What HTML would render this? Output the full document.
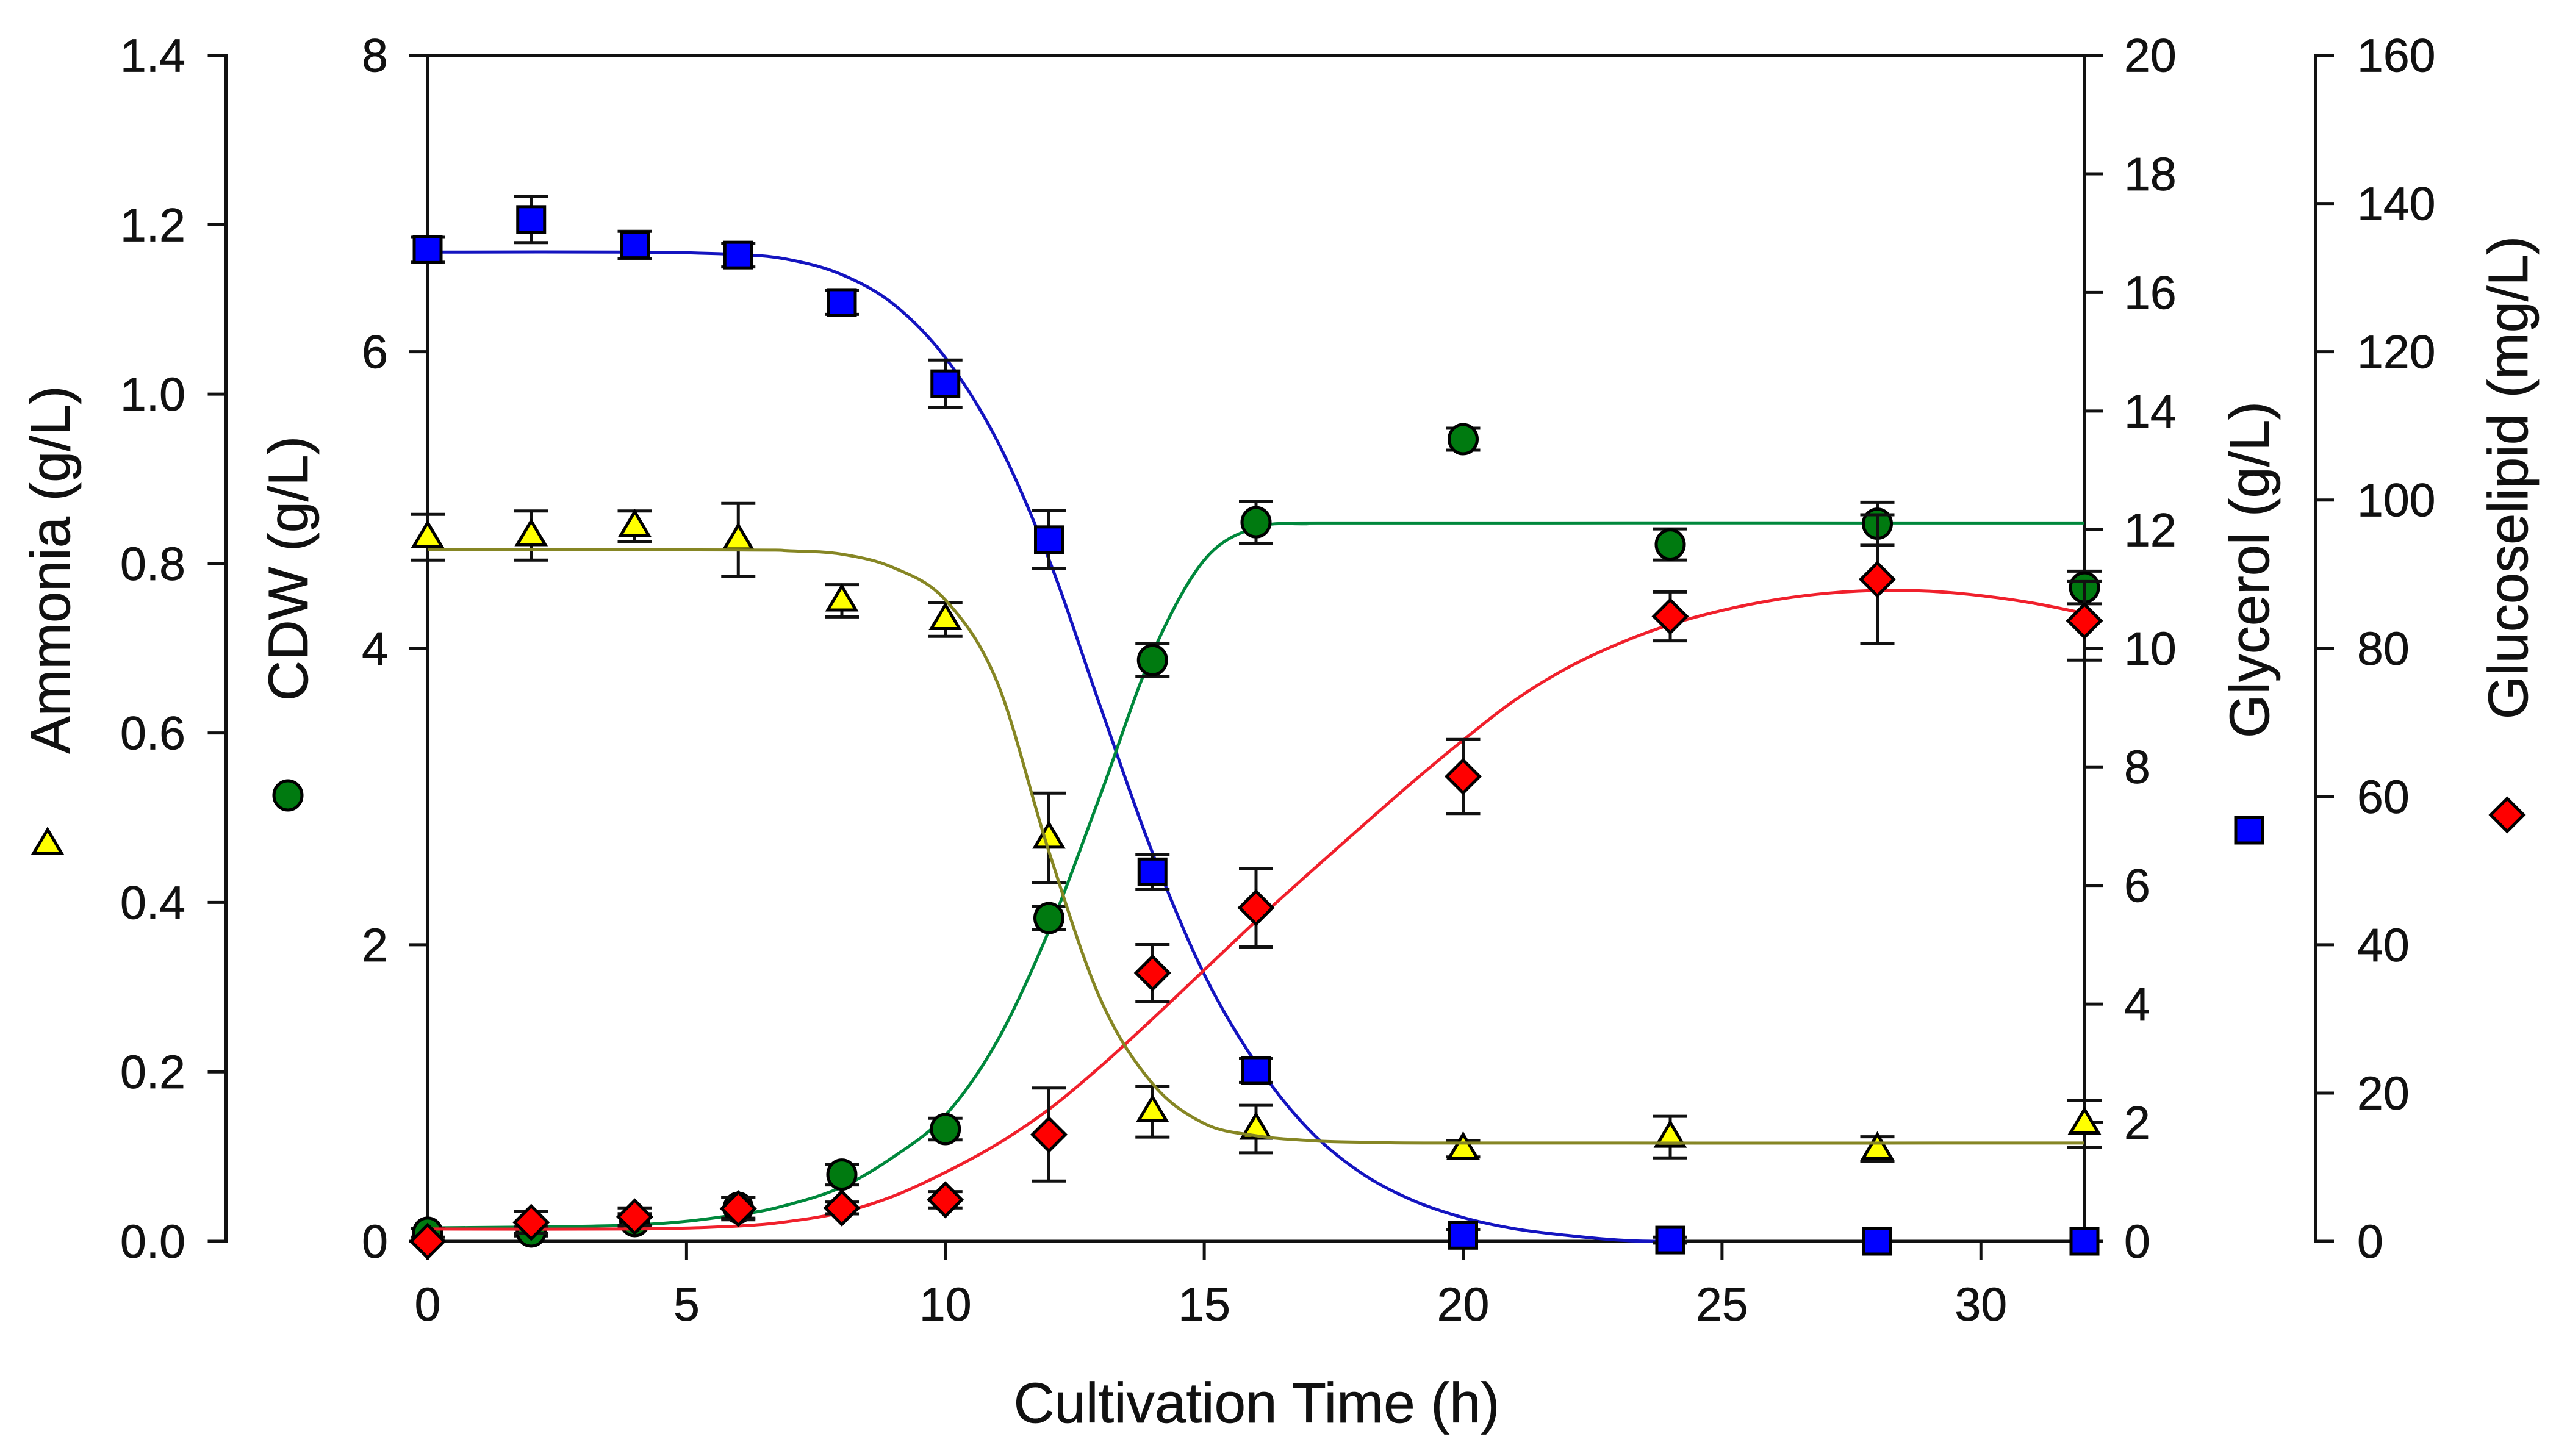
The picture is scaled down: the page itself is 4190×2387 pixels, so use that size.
<!DOCTYPE html>
<html lang="en">
<head>
<meta charset="utf-8">
<title>Cultivation time course</title>
<style>
html,body{margin:0;padding:0;background:#fff;width:4190px;height:2387px;overflow:hidden}
svg{display:block}
text{font-family:"Liberation Sans",Arial,sans-serif;fill:#111;stroke:#111;stroke-width:0.7px}
</style>
</head>
<body>
<svg id="chart" xmlns="http://www.w3.org/2000/svg" width="4190" height="2387" viewBox="0 0 4190 2387">
<rect x="0" y="0" width="4190" height="2387" fill="#fff"/>
<text x="2060" y="2332" font-size="92.5" text-anchor="middle">Cultivation Time (h)</text>
<text transform="translate(114,934) rotate(-90)" font-size="92" text-anchor="middle">Ammonia (g/L)</text>
<text transform="translate(504,932) rotate(-90)" font-size="92" text-anchor="middle">CDW (g/L)</text>
<text transform="translate(3719,934) rotate(-90)" font-size="92" text-anchor="middle">Glycerol (g/L)</text>
<text transform="translate(4143,783) rotate(-90)" font-size="92" text-anchor="middle">Glucoselipid (mg/L)</text>
</svg>
<script>
// Sample times shared by all measured series (h)
const times = [0, 2, 4, 6, 8, 10, 12, 14, 16, 20, 24, 28, 32];

// Measured values and error half-widths
const glycerolValues = [16.72, 17.23, 16.80, 16.63, 15.83, 14.46, 11.83, 6.23, 2.88, 0.10, 0.02, 0, 0];
const glycerolErrors = [0.21, 0.39, 0.23, 0.20, 0.20, 0.40, 0.49, 0.29, 0.20, 0.10, 0.05, 0, 0];
const ammoniaValues = [0.831, 0.833, 0.844, 0.828, 0.756, 0.734, 0.476, 0.153, 0.1325, 0.109, 0.123, 0.109, 0.1386];
const ammoniaErrors = [0.027, 0.029, 0.018, 0.043, 0.019, 0.020, 0.053, 0.030, 0.028, 0.0095, 0.0245, 0.0144, 0.0277];
const cdwValues = [0.058, 0.066, 0.136, 0.226, 0.45, 0.757, 2.18, 3.92, 4.85, 5.41, 4.70, 4.84, 4.41];
const cdwErrors = [0.03, 0.03, 0.05, 0.07, 0.07, 0.073, 0.078, 0.11, 0.142, 0.074, 0.105, 0.145, 0.11];
const glucoselipidValues = [0, 2.55, 3.3, 4.4, 4.5, 5.6, 14.4, 36.2, 45.0, 62.7, 84.3, 89.3, 83.7];
const glucoselipidErrors = [0, 1.5, 1.2, 1.5, 0.8, 1.1, 6.27, 3.83, 5.3, 5.0, 3.3, 8.7, 5.3];

// Fitted curves
const glycerolCurveT = [0, 4, 6, 7, 8, 9, 10, 11, 12, 13, 14, 15, 16, 17, 18, 19, 20, 21, 22, 23, 23.7, 24];
const glycerolCurveV = [16.68, 16.68, 16.64, 16.55, 16.3, 15.8, 14.9, 13.5, 11.5, 9.0, 6.55, 4.5, 3.0, 1.9, 1.17, 0.7, 0.4, 0.21, 0.10, 0.02, 0, 0];
const ammoniaCurveT = [0, 6, 7, 8, 9, 10, 11, 12, 13, 14, 15, 16, 17, 18, 20, 32];
const ammoniaCurveV = [0.8165, 0.816, 0.815, 0.811, 0.795, 0.757, 0.66, 0.46, 0.285, 0.186, 0.139, 0.1246, 0.119, 0.117, 0.116, 0.116];
const cdwCurveT = [0, 4, 6, 7, 8, 9, 10, 11, 12, 13, 14, 15, 16, 17, 18, 32];
const cdwCurveV = [0.09, 0.11, 0.18, 0.25, 0.366, 0.57, 0.85, 1.35, 2.096, 3.016, 3.966, 4.595, 4.815, 4.84, 4.845, 4.845];
const glucoselipidCurveT = [0, 4, 6, 7, 8, 9, 10, 11, 12, 13, 14, 15, 16, 17, 18, 19, 20, 21, 22, 23, 24, 25, 26, 27, 28, 29, 30, 31, 32];
const glucoselipidCurveV = [1.66, 1.66, 2.06, 2.7, 3.9, 6.1, 9.3, 13.1, 17.8, 23.6, 30, 36.6, 43.2, 49.5, 55.7, 61.8, 67.6, 73.0, 77.3, 80.6, 83.2, 85.1, 86.5, 87.4, 87.8, 87.7, 87.1, 86.1, 84.7];

// Tick labels
const timeTicks = [0, 5, 10, 15, 20, 25, 30];
const ammoniaTicks = ["0.0", "0.2", "0.4", "0.6", "0.8", "1.0", "1.2", "1.4"];
const cdwTicks = ["0", "2", "4", "6", "8"];
const glycerolTicks = ["0", "2", "4", "6", "8", "10", "12", "14", "16", "18", "20"];
const glucoselipidTicks = ["0", "20", "40", "60", "80", "100", "120", "140", "160"];

const NS = "http://www.w3.org/2000/svg";
const svg = document.getElementById("chart");
const PLOT = { left: 701, right: 3417, top: 90.5, bottom: 2035 };
const INK = "#111";

function xScale(t) { return PLOT.left + t * (PLOT.right - PLOT.left) / 32; }
function yScale(v, max) { return PLOT.bottom - v * (PLOT.bottom - PLOT.top) / max; }
const yAmmonia = v => yScale(v, 1.4);
const yCdw = v => yScale(v, 8);
const yGlycerol = v => yScale(v, 20);
const yGlucoselipid = v => yScale(v, 160);

function shape(tag, attrs, parent) {
  const el = document.createElementNS(NS, tag);
  for (const k in attrs) el.setAttribute(k, attrs[k]);
  (parent || svg).appendChild(el);
  return el;
}
function group(name) {
  const g = shape("g", {});
  
  
  return g;
}
function seg(g, x1, y1, x2, y2, w) {
  return shape("line", { x1: x1, y1: y1, x2: x2, y2: y2, stroke: INK, "stroke-width": w || 5, "stroke-linecap": "butt" }, g);
}
function label(g, x, y, txt, anchor) {
  const t = shape("text", { x: x, y: y, "font-size": 77, "text-anchor": anchor }, g);
  t.textContent = txt;
  return t;
}

/* Axes */
function yAxis(name, axisX, tickDir, labels, max, labelX, anchor) {
  const g = group(name);
  seg(g, axisX, PLOT.top - 2.5, axisX, PLOT.bottom + 2.5);
  labels.forEach(function (txt) {
    const y = yScale(parseFloat(txt), max);
    seg(g, axisX, y, axisX + tickDir * 30, y);
    label(g, labelX, y + 27, txt, anchor);
  });
}
yAxis("ammonia-axis", 370.5, -1, ammoniaTicks, 1.4, 304, "end");
yAxis("cdw-axis", PLOT.left, -1, cdwTicks, 8, 636, "end");
yAxis("glycerol-axis", PLOT.right, 1, glycerolTicks, 20, 3482, "start");
yAxis("glucoselipid-axis", 3796, 1, glucoselipidTicks, 160, 3864, "start");

const frame = group("plot-frame");
seg(frame, PLOT.left, PLOT.top, PLOT.right, PLOT.top);
const xAxis = group("time-axis");
seg(xAxis, PLOT.left, PLOT.bottom, PLOT.right, PLOT.bottom);
timeTicks.forEach(function (t) {
  seg(xAxis, xScale(t), PLOT.bottom, xScale(t), PLOT.bottom + 30);
  label(xAxis, xScale(t), 2165, String(t), "middle");
});

/* Curves: Catmull-Rom through the read points */
function curve(name, ts, vs, yFn, color) {
  const p = ts.map(function (t, i) { return [xScale(t), yFn(vs[i])]; });
  let d = "M" + p[0][0] + " " + p[0][1];
  for (let i = 0; i < p.length - 1; i++) {
    const a = p[Math.max(i - 1, 0)], b = p[i], c = p[i + 1], e = p[Math.min(i + 2, p.length - 1)];
    d += " C" + (b[0] + (c[0] - a[0]) / 6) + " " + (b[1] + (c[1] - a[1]) / 6) + " " +
         (c[0] - (e[0] - b[0]) / 6) + " " + (c[1] - (e[1] - b[1]) / 6) + " " + c[0] + " " + c[1];
  }
  const el = shape("path", { d: d, fill: "none", stroke: color, "stroke-width": 5 });
  
  
}

/* Markers */
const STROKE = { stroke: "#000", "stroke-width": 5, "stroke-linejoin": "miter" };
function drawSquare(g, x, y) {
  shape("rect", Object.assign({ x: x - 22, y: y - 21, width: 44, height: 42, fill: "#0000ff" }, STROKE), g);
}
function drawCircle(g, x, y) {
  shape("ellipse", Object.assign({ cx: x, cy: y, rx: 23, ry: 24, fill: "#007a10" }, STROKE), g);
}
function drawDiamond(g, x, y) {
  shape("polygon", Object.assign({ points: (x - 27) + "," + y + " " + x + "," + (y - 27) + " " + (x + 27) + "," + y + " " + x + "," + (y + 27), fill: "#ff0000" }, STROKE), g);
}
function drawTriangle(g, x, y) {
  shape("polygon", Object.assign({ points: x + "," + (y - 24) + " " + (x + 23) + "," + (y + 15) + " " + (x - 23) + "," + (y + 15), fill: "#ffff00" }, STROKE), g);
}

function series(name, values, errors, yFn, draw) {
  const g = group(name);
  values.forEach(function (v, i) {
    const x = xScale(times[i]), y = yFn(v), e = errors[i];
    if (e > 0) {
      const hi = yFn(v + e), lo = yFn(v - e);
      seg(g, x, hi, x, lo);
      seg(g, x - 28, hi, x + 28, hi);
      seg(g, x - 28, lo, x + 28, lo);
    }
    draw(g, x, y);
  });
}

curve("glycerol-curve", glycerolCurveT, glycerolCurveV, yGlycerol, "#1414c0");
series("glycerol-series", glycerolValues, glycerolErrors, yGlycerol, drawSquare);
curve("cdw-curve", cdwCurveT, cdwCurveV, yCdw, "#00883c");
series("cdw-series", cdwValues, cdwErrors, yCdw, drawCircle);
curve("glucoselipid-curve", glucoselipidCurveT, glucoselipidCurveV, yGlucoselipid, "#f0202c");
series("glucoselipid-series", glucoselipidValues, glucoselipidErrors, yGlucoselipid, drawDiamond);
series("ammonia-series", ammoniaValues, ammoniaErrors, yAmmonia, drawTriangle);
curve("ammonia-curve", ammoniaCurveT, ammoniaCurveV, yAmmonia, "#868624");

/* Axis-title legend symbols */
const k1 = group("ammonia-legend-symbol");
drawTriangle(k1, 78, 1384);
const k2 = group("cdw-legend-symbol");
drawCircle(k2, 472, 1304);
const k3 = group("glycerol-legend-symbol");
drawSquare(k3, 3687, 1361);
const k4 = group("glucoselipid-legend-symbol");
drawDiamond(k4, 4110, 1336);
</script>
</body>
</html>
